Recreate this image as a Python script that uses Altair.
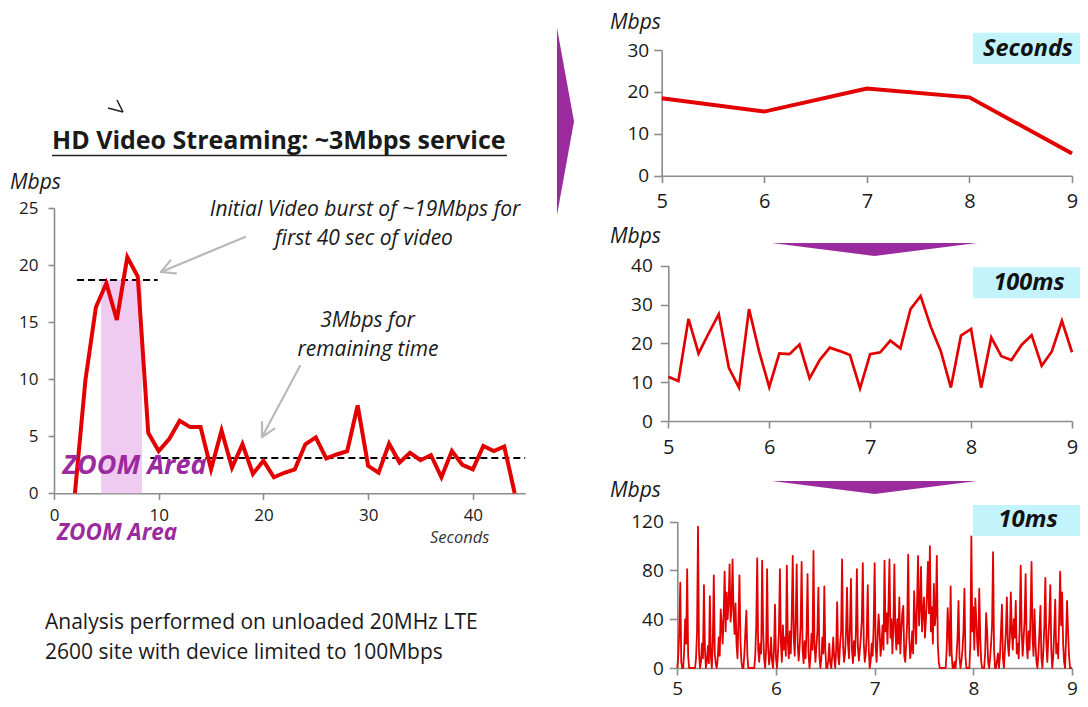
import math
import altair as alt
import pandas as pd

# ---------------- data ----------------
main_t = list(range(2, 45))
main_mbps = [0, 9.9, 16.3, 18.4, 15.2, 20.7, 19.0, 5.3, 3.7, 4.75, 6.35, 5.8, 5.8, 2.1,
             5.5, 2.25, 4.3, 1.7, 2.85, 1.4, 1.8, 2.1, 4.3, 4.9, 3.05, 3.4, 3.7, 7.7,
             2.4, 1.8, 4.35, 2.7, 3.55, 2.9, 3.35, 1.4, 3.7, 2.5, 2.1, 4.15, 3.7, 4.1, 0]

sec_t = [5, 6, 7, 8, 9]
sec_mbps = [18.5, 15.3, 20.8, 18.7, 5.3]

ms100_mbps = [11.4, 10.3, 26.3, 17.4, 22.6, 27.5, 13.7, 8.6, 28.8, 17.9,
              8.7, 17.4, 17.2, 19.7, 11.0, 15.7, 18.9, 18.0, 17.0, 8.4,
              17.2, 17.7, 20.7, 18.7, 28.8, 32.2, 24.3, 18.0, 8.6, 22.0,
              23.7, 8.6, 21.5, 16.7, 15.7, 19.6, 22.1, 14.2, 17.9, 25.8,
              17.7]

ms10_mbps = [
    0, 10, 30, 70, 5, 0, 0, 15, 40, 20, 81, 10, 0, 0, 0, 0, 0, 0, 0, 8,
    30, 116, 12, 0, 5, 20, 8, 68, 15, 0, 6, 18, 4, 59, 10, 0, 22, 76, 12, 3,
    0, 8, 25, 10, 48, 35, 20, 45, 79, 30, 62, 40, 55, 85, 38, 50, 89, 45, 28, 53,
    20, 8, 40, 76, 22, 5, 0, 0, 12, 30, 47, 10, 0, 0, 0, 0, 0, 0, 0, 10,
    35, 90, 15, 5, 20, 12, 88, 30, 8, 0, 15, 81, 18, 3, 10, 25, 6, 0, 15, 52,
    8, 0, 12, 30, 81, 20, 5, 35, 15, 25, 10, 84, 22, 8, 30, 12, 45, 92, 25, 10,
    40, 85, 20, 6, 18, 35, 87, 15, 4, 22, 8, 30, 77, 12, 0, 10, 28, 15, 96, 20,
    5, 18, 30, 66, 10, 0, 8, 25, 12, 67, 15, 0, 0, 6, 20, 4, 0, 10, 25, 8,
    0, 15, 54, 10, 3, 20, 30, 89, 18, 5, 12, 30, 66, 20, 8, 35, 73, 15, 4, 22,
    10, 30, 81, 18, 6, 15, 25, 40, 86, 20, 5, 12, 28, 68, 15, 0, 6, 20, 10, 35,
    86, 18, 5, 25, 44, 30, 10, 20, 35, 15, 88, 30, 45, 20, 50, 89, 25, 40, 12, 35,
    85, 30, 15, 40, 20, 58, 12, 30, 45, 51, 10, 5, 20, 38, 93, 25, 8, 15, 30, 12,
    63, 40, 20, 55, 92, 35, 50, 83, 30, 45, 58, 25, 40, 60, 87, 45, 100, 30, 50, 20,
    69, 35, 45, 92, 20, 5, 0, 0, 0, 0, 0, 0, 0, 15, 49, 30, 10, 67, 12, 0,
    0, 5, 0, 10, 25, 55, 8, 0, 6, 15, 30, 65, 10, 0, 0, 0, 0, 20, 108, 30,
    50, 15, 57, 40, 20, 10, 65, 25, 5, 0, 0, 0, 12, 45, 30, 5, 0, 8, 20, 35,
    95, 15, 0, 0, 6, 12, 0, 10, 30, 52, 8, 0, 15, 30, 58, 20, 10, 25, 62, 30,
    15, 40, 25, 55, 12, 20, 8, 35, 84, 30, 10, 25, 40, 77, 20, 8, 30, 15, 45, 87,
    25, 10, 48, 20, 5, 0, 12, 30, 51, 8, 0, 15, 35, 74, 20, 5, 25, 40, 68, 15,
    0, 10, 30, 56, 12, 20, 8, 40, 79, 35, 62, 20, 5, 0, 25, 55, 30, 10, 0, 0,
    0,
]

ms100_t = [5 + i / 10 for i in range(len(ms100_mbps))]
ms10_t = [5 + i / 100 for i in range(len(ms10_mbps))]

# ---------------- styling ----------------
W, H = 1072, 691
FONT = "Open Sans"
RED = "#e30000"
PURPLE = "#9b2a9f"
GRAY = "#8c8c8c"
TXT = "#1a1a1a"
CYAN = "#c3f3fb"
PINK = "#efcbf1"
ARROW = "#b9b9b9"

one = pd.DataFrame({"k": [0]})


def ax(orient, offset, values, size, pad, tick=6):
    return alt.Axis(orient=orient, offset=offset, values=values, grid=False,
                    domainColor=GRAY, domainWidth=1.6, tickColor=GRAY, tickWidth=1.6,
                    tickSize=tick, labelFont=FONT, labelFontSize=size, labelColor=TXT,
                    labelPadding=pad, labelFlush=False, labelOverlap=False)


def txt(s, x, y, size, color=TXT, align="left", baseline="alphabetic", **kw):
    return alt.Chart(one).mark_text(text=s, font=FONT, fontSize=size, color=color,
                                    align=align, baseline=baseline, **kw).encode(
        x=alt.value(x), y=alt.value(y))


def rule(x0, y0, x1, y1, color, width, **kw):
    return alt.Chart(one).mark_rule(color=color, strokeWidth=width, **kw).encode(
        x=alt.value(x0), y=alt.value(y0), x2=alt.value(x1), y2=alt.value(y1))


def arrow(x0, y0, x1, y1, head=15, ang=28):
    dx, dy = x0 - x1, y0 - y1
    L = math.hypot(dx, dy)
    ux, uy = dx / L, dy / L
    out = [rule(x0, y0, x1, y1, ARROW, 2.2, strokeCap="round")]
    for s in (1, -1):
        a = math.radians(ang * s)
        hx = ux * math.cos(a) - uy * math.sin(a)
        hy = ux * math.sin(a) + uy * math.cos(a)
        out.append(rule(x1, y1, x1 + head * hx, y1 + head * hy, ARROW, 2.2, strokeCap="round"))
    return out


def tri(path, size, x, y):
    return alt.Chart(one).mark_point(shape=path, size=size, filled=True, color=PURPLE,
                                     opacity=1, strokeWidth=0).encode(
        x=alt.value(x), y=alt.value(y))


def box(x0, y0, x1, y1):
    return alt.Chart(one).mark_rect(color=CYAN, opacity=1).encode(
        x=alt.value(x0), x2=alt.value(x1), y=alt.value(y0), y2=alt.value(y1))


# ---------------- main chart ----------------
mx = alt.Scale(domain=[0, 45], range=[46, 517.2], nice=False, zero=False)
my = alt.Scale(domain=[0, 25], range=[485.3, 200], nice=False)

zoom_rect = alt.Chart(one).mark_rect(color=PINK, opacity=1).encode(
    x=alt.XDatum(4.5, type="quantitative"), x2=alt.X2Datum(8.4),
    y=alt.YDatum(0, type="quantitative"), y2=alt.Y2Datum(18.7))
dash1 = alt.Chart(one).mark_rule(color="black", strokeWidth=2, strokeDash=[7, 4]).encode(
    x=alt.XDatum(2.2, type="quantitative"), x2=alt.X2Datum(9.9),
    y=alt.YDatum(18.7, type="quantitative"))
dash2 = alt.Chart(one).mark_rule(color="black", strokeWidth=2, strokeDash=[7, 4]).encode(
    x=alt.XDatum(9.2, type="quantitative"), x2=alt.X2Datum(45),
    y=alt.YDatum(3.1, type="quantitative"))
main_line = alt.Chart(pd.DataFrame({"t": main_t, "v": main_mbps})).mark_line(
    color=RED, strokeWidth=4).encode(
    x=alt.X("t:Q", scale=mx, title=None,
            axis=ax("bottom", 485.3 - H, [0, 10, 20, 30, 40], 17, 8)),
    y=alt.Y("v:Q", scale=my, title=None,
            axis=ax("left", -46, [0, 5, 10, 15, 20, 25], 17, 10)))
main_layer = alt.layer(zoom_rect, dash1, dash2, main_line)

# ---------------- seconds chart ----------------
sec_layer = alt.Chart(pd.DataFrame({"t": sec_t, "v": sec_mbps})).mark_line(
    color=RED, strokeWidth=4).encode(
    x=alt.X("t:Q", title=None,
            scale=alt.Scale(domain=[5, 9], range=[653.7, 1064], nice=False, zero=False),
            axis=ax("bottom", 167.7 - H, [5, 6, 7, 8, 9], 20, 9, 7)),
    y=alt.Y("v:Q", title=None,
            scale=alt.Scale(domain=[0, 30], range=[167.7, 42], nice=False),
            axis=ax("left", -653.7, [0, 10, 20, 30], 19, 5, 8)))

# ---------------- 100 ms chart ----------------
ms100_layer = alt.Chart(pd.DataFrame({"t": ms100_t, "v": ms100_mbps})).mark_line(
    color=RED, strokeWidth=2.7).encode(
    x=alt.X("t:Q", title=None,
            scale=alt.Scale(domain=[5, 9], range=[660.3, 1064], nice=False, zero=False),
            axis=ax("bottom", 413 - H, [5, 6, 7, 8, 9], 20, 9, 7)),
    y=alt.Y("v:Q", title=None,
            scale=alt.Scale(domain=[0, 40], range=[413, 257.7], nice=False),
            axis=ax("left", -660.3, [0, 10, 20, 30, 40], 19, 8, 8)))

# ---------------- 10 ms chart ----------------
ms10_layer = alt.Chart(pd.DataFrame({"t": ms10_t, "v": ms10_mbps})).mark_line(
    color=RED, strokeWidth=1.8, strokeJoin="round").encode(
    x=alt.X("t:Q", title=None,
            scale=alt.Scale(domain=[5, 9], range=[669.3, 1064], nice=False, zero=False),
            axis=ax("bottom", 660 - H, [5, 6, 7, 8, 9], 19, 4, 7)),
    y=alt.Y("v:Q", title=None,
            scale=alt.Scale(domain=[0, 120], range=[660, 513.7], nice=False),
            axis=ax("left", -669.3, [0, 40, 80, 120], 19, 6, 8)))

# ---------------- decorations & text ----------------
ITAL = dict(fontStyle="italic")
BOXT = dict(align="center", baseline="middle", fontWeight="bold", fontStyle="italic",
            color="#111111")
decor = [
    box(965, 24.7, 1072, 56), box(965, 259.3, 1072, 290.3), box(965, 497, 1072, 528),
    txt("HD Video Streaming: ~3Mbps service", 44, 141, 25, fontWeight="bold"),
    rule(44, 147.5, 499, 147.5, "#222222", 1.5),
    rule(115, 104, 109, 92, "#222222", 1.5),
    rule(115, 104, 100, 100, "#222222", 1.5),
    txt("Mbps", 2, 181, 21, **ITAL),
    txt("Initial  Video burst of ~19Mbps for", 357, 208, 21, align="center", **ITAL),
    txt("first 40 sec of video", 356, 237, 21, align="center", **ITAL),
    txt("3Mbps for", 359.5, 319, 21, align="center", **ITAL),
    txt("remaining time", 360, 348, 21, align="center", **ITAL),
    txt("ZOOM  Area", 54.5, 466, 27, color=PURPLE, fontWeight="bold", **ITAL),
    txt("ZOOM Area", 49, 532, 22.5, color=PURPLE, fontWeight="bold", **ITAL),
    txt("Seconds", 422, 535, 16.5, color="#333333", **ITAL),
    txt("Analysis  performed on unloaded 20MHz LTE", 37, 621, 21),
    txt("2600 site with device limited to 100Mbps", 37, 651, 21),
    txt("Mbps", 602, 21.3, 21, **ITAL),
    txt("Mbps", 602, 235.3, 21, **ITAL),
    txt("Mbps", 602, 489.3, 21, **ITAL),
    txt("Seconds", 1020, 41, 23.5, **BOXT),
    txt("100ms", 1021, 275, 23.5, **BOXT),
    txt("10ms", 1020, 512, 24, **BOXT),
    tri("M -0.091 -1 L 0.091 0 L -0.091 1 Z", 34969, 557.5, 113.5),
    tri("M -1 -0.0634 L 1 -0.0634 L 0 0.0634 Z", 42025, 866.5, 241.5),
    tri("M -1 -0.0634 L 1 -0.0634 L 0 0.0634 Z", 42025, 866.5, 479.5),
]
decor += arrow(237, 229, 153, 264)
decor += arrow(292, 358, 254, 429)

chart = alt.layer(main_layer, sec_layer, ms100_layer, ms10_layer, *decor).resolve_scale(
    x="independent", y="independent").properties(
    width=W, height=H, padding=0, autosize=alt.AutoSizeParams(type="none")
).configure_view(strokeWidth=0)

chart.save("out.html", embed_options={"renderer": "svg", "actions": False})
